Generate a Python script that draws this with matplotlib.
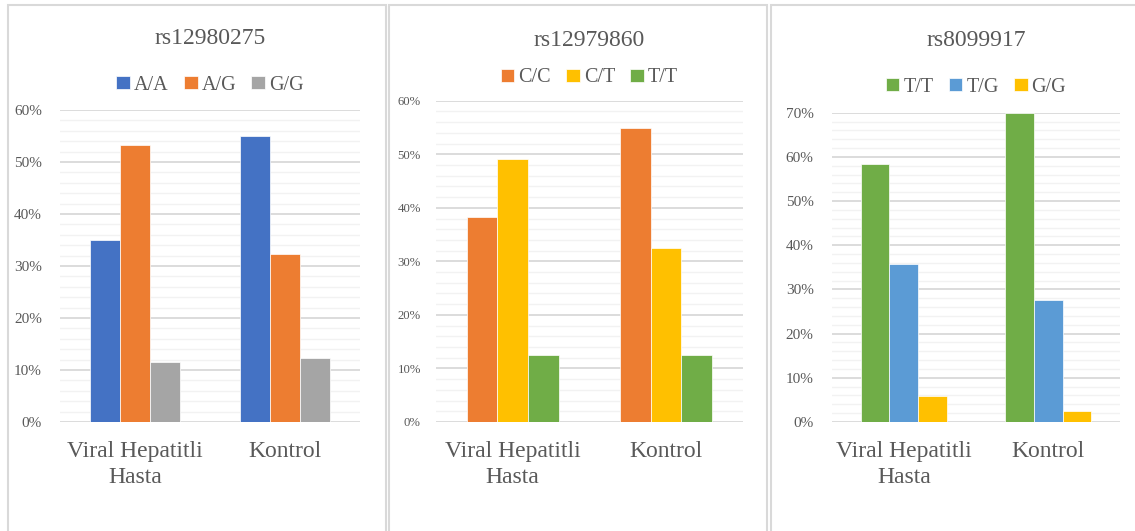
import matplotlib
matplotlib.use("Agg")
import matplotlib.pyplot as plt
from matplotlib.patches import Rectangle
from matplotlib.ticker import MultipleLocator, PercentFormatter

# ---- data ----
groups = ["Viral Hepatitli\nHasta", "Kontrol"]

titles = ["rs12980275", "rs12979860", "rs8099917"]

genotypes_1 = ["A/A", "A/G", "G/G"]
values_1 = [[35.0, 55.0], [53.3, 32.4], [11.6, 12.4]]
colors_1 = ["#4472C4", "#ED7D31", "#A5A5A5"]

genotypes_2 = ["C/C", "C/T", "T/T"]
values_2 = [[38.2, 54.9], [49.1, 32.4], [12.45, 12.45]]
colors_2 = ["#ED7D31", "#FFC000", "#70AD47"]

genotypes_3 = ["T/T", "T/G", "G/G"]
values_3 = [[58.3, 70.0], [35.8, 27.5], [5.9, 2.4]]
colors_3 = ["#70AD47", "#5B9BD5", "#FFC000"]

ymax = [60, 60, 70]

# ---- layout ----
W, H = 1135, 531
fig = plt.figure(figsize=(W / 100, H / 100), dpi=100)
plt.rcParams["font.family"] = ["Liberation Serif", "DejaVu Serif"]
TXT = "#595959"

# panel borders (pixel boxes)
borders = [(8, 386), (389, 767), (771, 1145)]
for x0, x1 in borders:
    fig.patches.append(Rectangle((x0 / W, -0.1), (x1 - x0) / W, (H - 5) / H + 0.1,
                                 transform=fig.transFigure, fill=False,
                                 edgecolor="#D9D9D9", lw=1.5, zorder=0))

# axes boxes in px: left, right, top, bottom
boxes = [(60, 360, 110, 422), (436, 742.7, 100.7, 422), (831.7, 1120.3, 112.7, 422)]
title_y = [39, 40, 41]
legend_y = [85, 78, 87]
tick_fs = [11, 9.2, 11]

panels = [(genotypes_1, values_1, colors_1),
          (genotypes_2, values_2, colors_2),
          (genotypes_3, values_3, colors_3)]

for i, ((gens, vals, cols), (l, r, t, b)) in enumerate(zip(panels, boxes)):
    ax = fig.add_axes([l / W, (H - b) / H, (r - l) / W, (b - t) / H])
    bw = 0.2
    for j, (g, v, c) in enumerate(zip(gens, vals, cols)):
        xs = [k + (j - 1) * bw for k in range(len(groups))]
        ax.bar(xs, v, width=bw, color=c, edgecolor="white", lw=0.5, label=g, zorder=3)
    ax.set_xlim(-0.5, 1.5)
    ax.set_ylim(0, ymax[i])
    ax.yaxis.set_major_locator(MultipleLocator(10))
    ax.yaxis.set_minor_locator(MultipleLocator(2))
    ax.yaxis.set_major_formatter(PercentFormatter(decimals=0))
    ax.grid(axis="y", which="minor", color="#F2F2F2", lw=1.0, zorder=0)
    ax.grid(axis="y", which="major", color="#D9D9D9", lw=1.3, zorder=1)
    for s in ax.spines.values():
        s.set_visible(False)
    ax.tick_params(axis="y", which="both", length=0, pad=13 if i != 1 else 11,
                   labelsize=tick_fs[i], labelcolor=TXT)
    ax.tick_params(axis="x", length=0, pad=14, labelsize=17, labelcolor=TXT)
    ax.set_xticks(range(len(groups)))
    ax.set_xticklabels(groups, linespacing=1.3)
    cx = (l + r) / 2 / W
    fig.text(cx, (H - title_y[i]) / H, titles[i], ha="center", va="center",
             fontsize=17, color=TXT)
    leg = ax.legend(loc="center", bbox_to_anchor=(cx, (H - legend_y[i]) / H),
                    bbox_transform=fig.transFigure, ncol=3, frameon=False,
                    fontsize=14.5, handlelength=0.68, handleheight=0.68,
                    handletextpad=0.2, columnspacing=0.75, labelcolor=TXT,
                    borderpad=0)

fig.savefig("out.png", dpi=100, facecolor="white")
